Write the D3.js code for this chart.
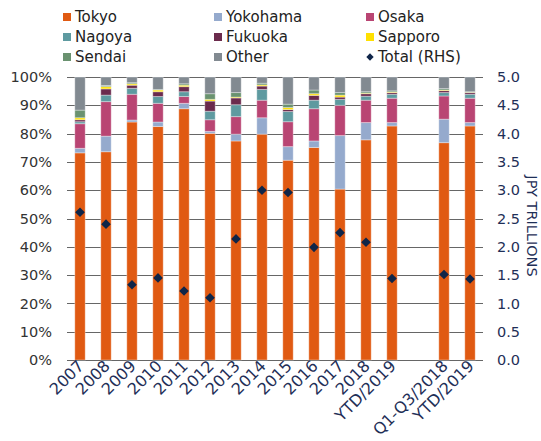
<!DOCTYPE html>
<html>
<head>
<meta charset="utf-8">
<title>Japan investment by city</title>
<script src="https://cdn.jsdelivr.net/npm/d3@7"></script>
<style>
  body { margin: 0; background: #fff; }
  svg { font-family: "DejaVu Sans", sans-serif; }
  .grid line { stroke: #666; stroke-width: 1px; shape-rendering: crispEdges; }
  .lbl-left { fill: #333; font-size: 14.5px; }
  .lbl-right { fill: #1f2f57; font-size: 14.5px; }
  .lbl-x { fill: #1f2f57; font-size: 16px; }
  .legend text { fill: #222; font-size: 15px; }
</style>
</head>
<body>
<script>
// categories (a blank slot separates the two comparison bars)
const categories = ["2007", "2008", "2009", "2010", "2011", "2012", "2013", "2014",
  "2015", "2016", "2017", "2018", "YTD/2019", "", "Q1-Q3/2018", "YTD/2019"];

// shares in % (gap slot = null)
const tokyo    = [73.2, 73.6, 84.1, 82.5, 88.8, 80.1, 77.4, 79.8, 70.6, 75.1, 60.4, 77.8, 82.7, null, 76.8, 82.7];
const yokohama = [1.6, 5.5, 0.7, 1.6, 1.9, 0.7, 2.4, 5.8, 4.8, 2.3, 18.9, 6.1, 1.2, null, 8.3, 1.2];
const osaka    = [8.7, 12.2, 9.1, 6.6, 2.4, 4.1, 6.2, 6.2, 8.8, 11.4, 10.7, 7.9, 8.6, null, 8.2, 8.6];
const nagoya   = [0.7, 2.3, 2.1, 2.4, 1.7, 3.0, 4.2, 3.8, 3.6, 3.0, 2.1, 1.4, 1.4, null, 1.2, 1.4];
const fukuoka  = [0.7, 2.2, 1.1, 1.7, 1.8, 3.6, 2.4, 1.2, 0.7, 1.7, 0.8, 0.9, 0.6, null, 0.7, 0.6];
const sapporo  = [0.7, 0.8, 0.5, 0.6, 0.5, 0.6, 0.3, 0.4, 0.7, 0.6, 0.7, 0.2, 0.2, null, 0.2, 0.1];
const sendai   = [2.7, 0.4, 0.4, 0.2, 0.5, 2.0, 1.6, 0.6, 1.2, 1.3, 0.9, 0.5, 0.4, null, 0.5, 0.2];
const other    = [11.7, 3.0, 2.0, 4.4, 2.4, 5.9, 5.5, 2.2, 9.6, 4.6, 5.5, 5.2, 4.9, null, 4.1, 5.2];

// total volume, JPY trillions (right axis)
const total = [2.61, 2.40, 1.33, 1.45, 1.22, 1.10, 2.14, 3.00, 2.96, 1.99, 2.25, 2.08, 1.44, null, 1.51, 1.43];

const seriesNames = ["Tokyo", "Yokohama", "Osaka", "Nagoya", "Fukuoka", "Sapporo", "Sendai", "Other"];
const seriesValues = [tokyo, yokohama, osaka, nagoya, fukuoka, sapporo, sendai, other];
const colors = ["#e05a12", "#95aacd", "#b94573", "#5e9aa0", "#6b2b4d", "#ffe000", "#6a9270", "#828a91"];

const leftTicks = [0, 10, 20, 30, 40, 50, 60, 70, 80, 90, 100];
const rightTicks = [0, 0.5, 1, 1.5, 2, 2.5, 3, 3.5, 4, 4.5, 5];

const width = 541, height = 441;
const plotLeft = 67, plotRight = 483, plotTop = 77, plotBottom = 360;

const svg = d3.select("body").append("svg")
  .attr("width", width)
  .attr("height", height);

// build rows for stacking
const rows = categories.map((c, i) => {
  const r = { idx: i, label: c };
  seriesNames.forEach((s, k) => r[s] = seriesValues[k][i] || 0);
  return r;
});

const x = d3.scaleBand()
  .domain(d3.range(categories.length))
  .range([plotLeft, plotRight])
  .paddingInner(0.6)
  .paddingOuter(0.3);

const y = d3.scaleLinear().domain([0, 100]).range([plotBottom, plotTop]);
const y2 = d3.scaleLinear().domain([0, 5]).range([plotBottom, plotTop]);

// gridlines
svg.append("g").attr("class", "grid")
  .selectAll("line")
  .data(leftTicks)
  .join("line")
  .attr("x1", plotLeft).attr("x2", plotRight)
  .attr("y1", d => Math.round(y(d)) + 0.5)
  .attr("y2", d => Math.round(y(d)) + 0.5);

// left axis labels
const yAxis = d3.axisLeft(y).tickValues(leftTicks).tickFormat(d => d + "%").tickSize(0).tickPadding(15);
svg.append("g")
  .attr("transform", "translate(" + plotLeft + ",0)")
  .call(yAxis)
  .call(g => g.select(".domain").remove())
  .call(g => g.selectAll("text").attr("class", "lbl-left"));

// right axis labels
const y2Axis = d3.axisRight(y2).tickValues(rightTicks).tickFormat(d3.format(".1f")).tickSize(0).tickPadding(14);
svg.append("g")
  .attr("transform", "translate(" + plotRight + ",0)")
  .call(y2Axis)
  .call(g => g.select(".domain").remove())
  .call(g => g.selectAll("text").attr("class", "lbl-right"));
svg.selectAll("g[font-size]").attr("font-size", null).attr("font-family", null);
svg.selectAll(".tick text").attr("fill", null);

svg.append("text")
  .attr("class", "lbl-right")
  .attr("transform", "translate(527,226) rotate(90)")
  .attr("text-anchor", "middle")
  .text("JPY TRILLIONS");

// stacked bars
const stack = d3.stack().keys(seriesNames);
const stacked = stack(rows.filter(r => r.label !== ""));

svg.append("g")
  .selectAll("g")
  .data(stacked)
  .join("g")
  .attr("fill", (d, i) => colors[i])
  .selectAll("rect")
  .data(d => d)
  .join("rect")
  .attr("x", d => x(d.data.idx))
  .attr("width", x.bandwidth())
  .attr("y", d => y(d[1]))
  .attr("height", d => y(d[0]) - y(d[1]))
  .attr("stroke", "rgba(255,255,255,0.35)")
  .attr("stroke-width", 1);

// total diamonds
svg.append("g")
  .selectAll("rect")
  .data(rows.filter(r => total[r.idx] != null))
  .join("rect")
  .attr("x", -3.4).attr("y", -3.4)
  .attr("width", 6.8).attr("height", 6.8)
  .attr("fill", "#0f2548")
  .attr("transform", d => "translate(" + (x(d.idx) + x.bandwidth() / 2) + "," + y2(total[d.idx]) + ") rotate(45)");

// x labels
svg.append("g")
  .selectAll("text")
  .data(rows.filter(r => r.label !== ""))
  .join("text")
  .attr("class", "lbl-x")
  .attr("text-anchor", "end")
  .attr("transform", d => "translate(" + (x(d.idx) + x.bandwidth() / 2 + 5) + ",367) rotate(-45)")
  .text(d => d.label);

// legend
const legendCols = [63, 214, 366];
const legendItems = seriesNames.concat(["Total (RHS)"]);
const legend = svg.append("g").attr("class", "legend");
legendItems.forEach((name, i) => {
  const lx = legendCols[i % 3], ly = 17 + Math.floor(i / 3) * 20;
  if (i < seriesNames.length) {
    legend.append("rect")
      .attr("x", lx).attr("y", ly - 4)
      .attr("width", 8).attr("height", 8)
      .attr("fill", colors[i]);
  } else {
    legend.append("rect")
      .attr("x", -2.6).attr("y", -2.6)
      .attr("width", 5.2).attr("height", 5.2)
      .attr("fill", "#0f2548")
      .attr("transform", "translate(" + (lx + 4) + "," + ly + ") rotate(45)");
  }
  legend.append("text")
    .attr("x", lx + 12)
    .attr("y", ly)
    .attr("dy", "0.36em")
    .text(name);
});
</script>
</body>
</html>
